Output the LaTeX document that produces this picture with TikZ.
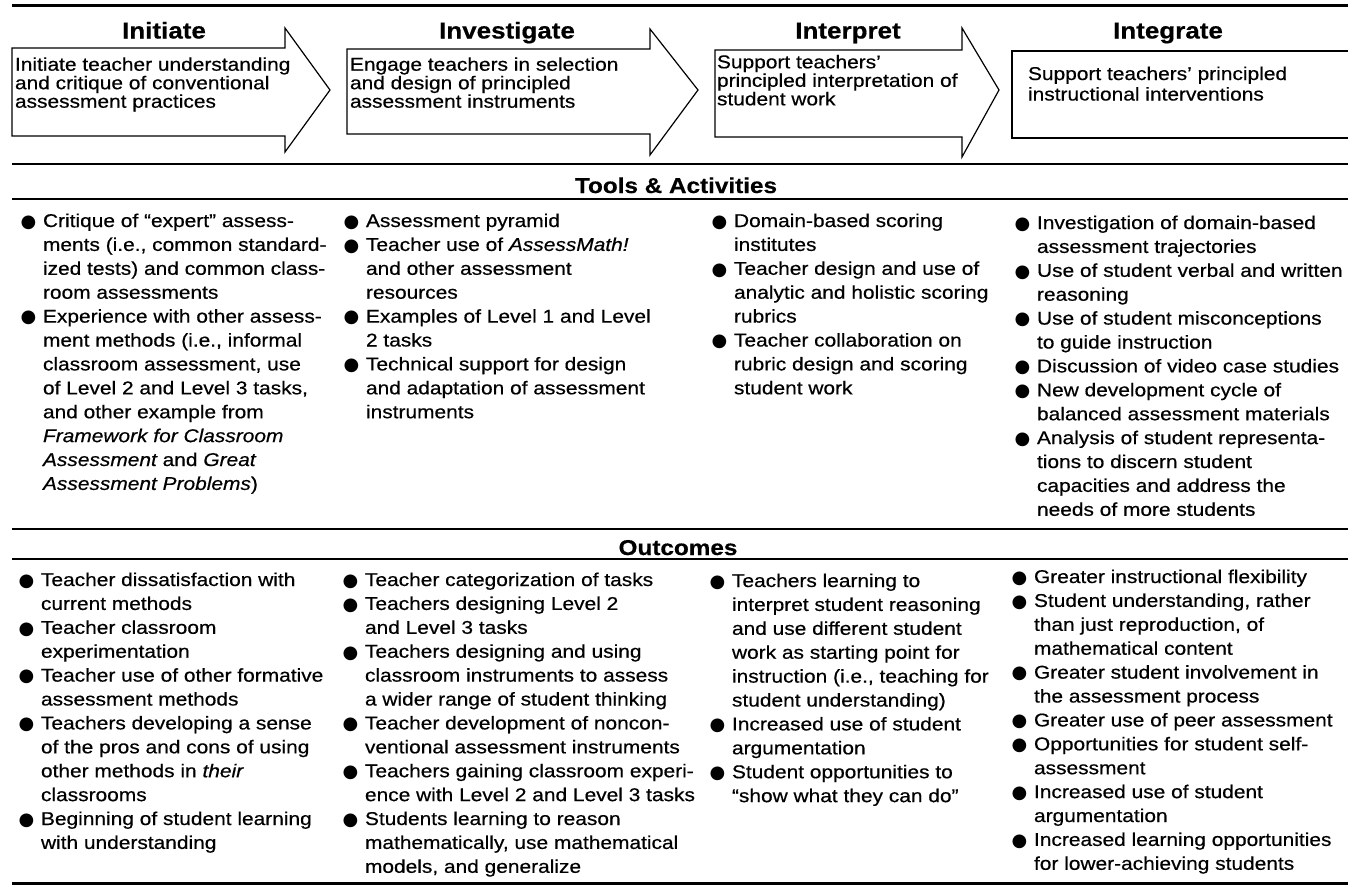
\documentclass[tikz,border=0pt]{standalone}
\usepackage{fontspec}
\setmainfont{Liberation Sans}[FakeStretch=1.13,FakeBold=0.5]
\newfontfamily\bulfont{DejaVu Sans}
\newlength\bw
\setlength\bw{21pt}
\newcommand\bu{\makebox[\bw][l]{\kern-1.5pt\bulfont\fontsize{18}{18}\selectfont\raisebox{-0.3pt}{●}}}
\newcommand\ind{\hspace*{\bw}}
\newcommand\fs{\rule{0pt}{16pt}}
\tikzset{
  rulethick/.style={line width=3pt},
  rulemid/.style={line width=2pt},
  rulethin/.style={line width=1.5pt},
  arr/.style={draw=black, line width=1.2pt, line join=miter},
  title/.style={font=\fontsize{23}{26}\selectfont\bfseries, inner sep=0pt, anchor=base},
  heading/.style={font=\fontsize{21.5}{24}\selectfont\bfseries, inner sep=0pt, anchor=base},
  txt/.style={font=\fontsize{18.5}{23.9}\selectfont, align=left, inner sep=0pt, outer sep=0pt,
    anchor=north west},
  arrtxt/.style={txt, font=\fontsize{18.5}{18.5}\selectfont},
  boxtxt/.style={txt, font=\fontsize{18.5}{20.5}\selectfont}
}
\begin{document}
\begin{tikzpicture}[x=1pt,y=-1pt]
\useasboundingbox (0,0) rectangle (1348,887);
\fill[white] (0,0) rectangle (1348,887);

% horizontal rules
\draw[rulethick] (12,5) -- (1348,5);
\draw[rulemid] (12,164) -- (1348,164);
\draw[rulethin] (12,199) -- (1348,199);
\draw[rulethin] (12,529) -- (1348,529);
\draw[rulethin] (12,559) -- (1348,559);
\draw[rulethick] (12,883) -- (1348,883);

% phase titles
\node[title] (tInit) at (164,38.5) {Initiate};
\node[title] (tInv)  at (507,38.5) {Investigate};
\node[title] (tInt)  at (848,38.5) {Interpret};
\node[title] (tIntg) at (1168,38.5) {Integrate};

% block arrows
\draw[arr] (12,48) -- (285,48) -- (285,28) -- (330,90) -- (285,152) -- (285,136) -- (12,136) -- cycle;
\draw[arr] (347,49) -- (650,49) -- (650,29) -- (698,90) -- (650,155) -- (650,134) -- (347,134) -- cycle;
\draw[arr] (715,50) -- (962,50) -- (962,28) -- (999,90) -- (962,157) -- (962,137) -- (715,137) -- cycle;
\draw[arr] (1348,51) -- (1012,51) -- (1012,138) -- (1348,138);

\node[arrtxt] (a1) at (15,54.7) {\fs Initiate teacher understanding\\and critique of conventional\\assessment practices};
\node[arrtxt] (a2) at (350,54.7) {\fs Engage teachers in selection\\and design of principled\\assessment instruments};
\node[arrtxt] (a3) at (717,52.3) {\fs Support teachers'\\principled interpretation of\\student work};
\node[boxtxt] (a4) at (1028,64) {\fs Support teachers' principled\\instructional interventions};

% section headings
\node[heading] (hTools) at (676,193) {Tools \& Activities};
\node[heading] (hOut) at (678,555) {Outcomes};

% Tools & Activities
\node[txt] (tc1) at (22,211) {\fs\bu Critique of ``expert'' assess-\\
\ind ments (i.e., common standard-\\
\ind ized tests) and common class-\\
\ind room assessments\\
\bu Experience with other assess-\\
\ind ment methods (i.e., informal\\
\ind classroom assessment, use\\
\ind of Level 2 and Level 3 tasks,\\
\ind and other example from\\
\ind {\itshape Framework for Classroom}\\
\ind {\itshape Assessment} and {\itshape Great}\\
\ind {\itshape Assessment Problems})};

\node[txt] (tc2) at (345,211) {\fs\bu Assessment pyramid\\
\bu Teacher use of {\itshape AssessMath!}\\
\ind and other assessment\\
\ind resources\\
\bu Examples of Level 1 and Level\\
\ind 2 tasks\\
\bu Technical support for design\\
\ind and adaptation of assessment\\
\ind instruments};

\node[txt] (tc3) at (713,211) {\fs\bu Domain-based scoring\\
\ind institutes\\
\bu Teacher design and use of\\
\ind analytic and holistic scoring\\
\ind rubrics\\
\bu Teacher collaboration on\\
\ind rubric design and scoring\\
\ind student work};

\node[txt] (tc4) at (1016,213) {\fs\bu Investigation of domain-based\\
\ind assessment trajectories\\
\bu Use of student verbal and written\\
\ind reasoning\\
\bu Use of student misconceptions\\
\ind to guide instruction\\
\bu Discussion of video case studies\\
\bu New development cycle of\\
\ind balanced assessment materials\\
\bu Analysis of student representa-\\
\ind tions to discern student\\
\ind capacities and address the\\
\ind needs of more students};

% Outcomes
\node[txt] (oc1) at (20,570) {\fs\bu Teacher dissatisfaction with\\
\ind current methods\\
\bu Teacher classroom\\
\ind experimentation\\
\bu Teacher use of other formative\\
\ind assessment methods\\
\bu Teachers developing a sense\\
\ind of the pros and cons of using\\
\ind other methods in {\itshape their}\\
\ind classrooms\\
\bu Beginning of student learning\\
\ind with understanding};

\node[txt] (oc2) at (344,570) {\fs\bu Teacher categorization of tasks\\
\bu Teachers designing Level 2\\
\ind and Level 3 tasks\\
\bu Teachers designing and using\\
\ind classroom instruments to assess\\
\ind a wider range of student thinking\\
\bu Teacher development of noncon-\\
\ind ventional assessment instruments\\
\bu Teachers gaining classroom experi-\\
\ind ence with Level 2 and Level 3 tasks\\
\bu Students learning to reason\\
\ind mathematically, use mathematical\\
\ind models, and generalize};

\node[txt] (oc3) at (711,571) {\fs\bu Teachers learning to\\
\ind interpret student reasoning\\
\ind and use different student\\
\ind work as starting point for\\
\ind instruction (i.e., teaching for\\
\ind student understanding)\\
\bu Increased use of student\\
\ind argumentation\\
\bu Student opportunities to\\
\ind ``show what they can do''};

\node[txt] (oc4) at (1013,567) {\fs\bu Greater instructional flexibility\\
\bu Student understanding, rather\\
\ind than just reproduction, of\\
\ind mathematical content\\
\bu Greater student involvement in\\
\ind the assessment process\\
\bu Greater use of peer assessment\\
\bu Opportunities for student self-\\
\ind assessment\\
\bu Increased use of student\\
\ind argumentation\\
\bu Increased learning opportunities\\
\ind for lower-achieving students};
\end{tikzpicture}
\end{document}
